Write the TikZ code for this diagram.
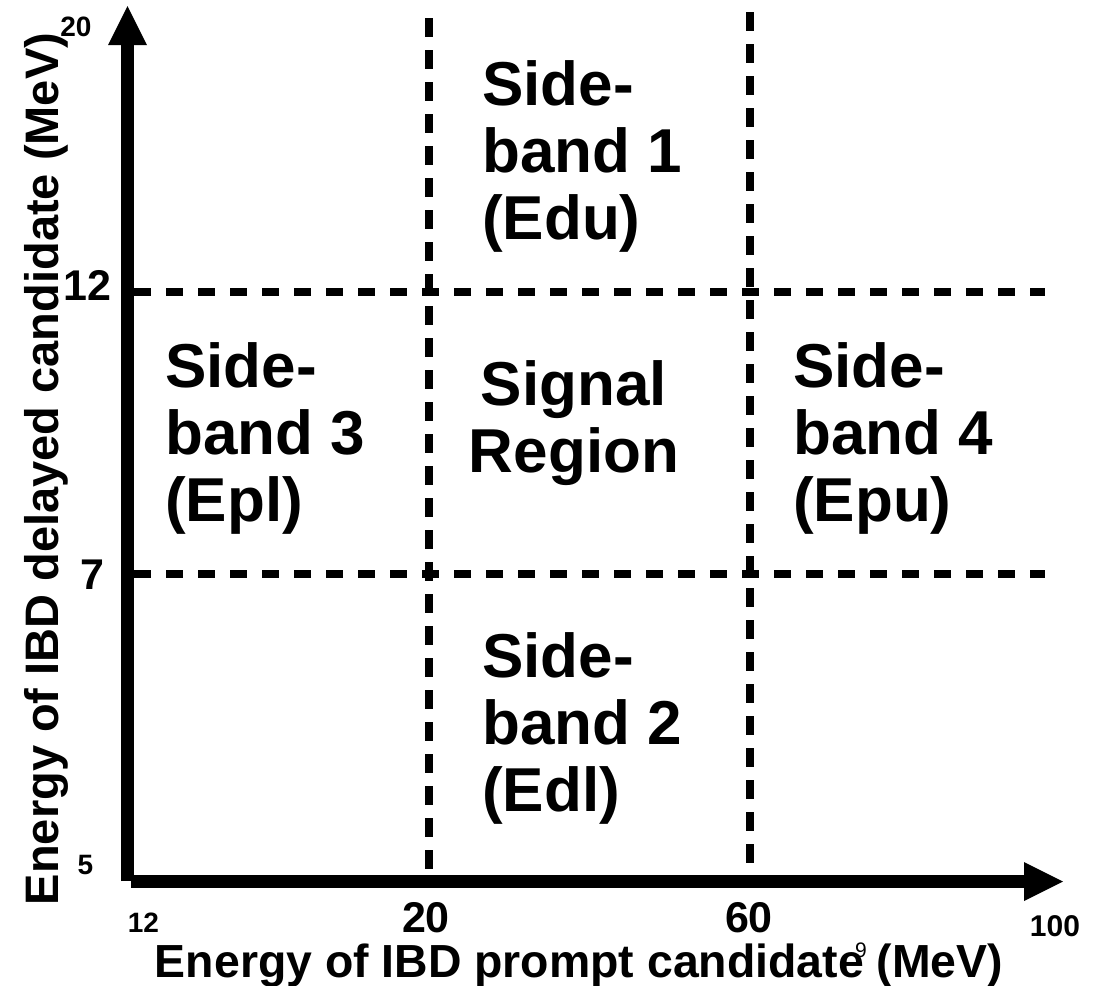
\documentclass[tikz,border=0pt]{standalone}
\usepackage{fontspec}
\setmainfont{Liberation Sans}
\usetikzlibrary{arrows.meta}
\begin{document}
\begin{tikzpicture}[x=1pt,y=-1pt,
  axis/.style={line width=13pt, -{Triangle[length=39pt,width=39pt,line width=0pt]}},
  vdash/.style={line width=8pt, dash pattern=on 19pt off 13pt},
  hdash/.style={line width=8pt, dash pattern=on 16.5pt off 15.5pt},
  big/.style={font=\fontsize{62}{67}\selectfont\bfseries, inner sep=0pt, align=left, anchor=north west},
  tick/.style={font=\fontsize{43}{43}\selectfont\bfseries, inner sep=0pt},
  small/.style={font=\fontsize{28}{28}\selectfont\bfseries, inner sep=0pt},
  lab/.style={font=\fontsize{47}{47}\selectfont\bfseries, inner sep=0pt, anchor=base}
]
\useasboundingbox (0,0) rectangle (1104,986);

% axes
\coordinate (ybot) at (127.5,881);
\coordinate (ytip) at (127.5,6);
\coordinate (xstart) at (131,881.5);
\coordinate (xtip) at (1063,881.5);
\draw[axis] (ybot) -- (ytip);
\draw[axis] (xstart) -- (xtip);

% dashed region boundaries
\coordinate (v1t) at (428.5,18);
\coordinate (v1b) at (428.5,876);
\coordinate (v2t) at (750,12);
\coordinate (v2b) at (750,876);
\coordinate (h1l) at (134,291.5);
\coordinate (h1r) at (1045,291.5);
\coordinate (h2l) at (134,573.5);
\coordinate (h2r) at (1045,573.5);
\draw[vdash] (v1t) -- (v1b);
\draw[vdash] (v2t) -- (v2b);
\draw[hdash] (h1l) -- (h1r);
\draw[hdash] (h2l) -- (h2r);

% region labels
\node[big] (sb1) at (482,60) {Side-\\band 1\\(Edu)};
\node[big] (sb3) at (165,342) {Side-\\band 3\\(Epl)};
\node[big, align=center, anchor=north] (sig) at (574,360) {Signal\\Region};
\node[big] (sb4) at (793,342) {Side-\\band 4\\(Epu)};
\node[big] (sb2) at (482,632) {Side-\\band 2\\(Edl)};

% tick labels
\node[tick] (t20) at (426,917.5) {20};
\node[tick] (t60) at (749,917.5) {60};
\node[tick, anchor=east] (t12) at (112,285) {12};
\node[tick, anchor=east] (t7) at (105,575) {7};
\node[small] (s20) at (76,27) {20};
\node[small] (s5) at (85.5,865) {5};
\node[small] (s12) at (143.5,922.5) {12};
\node[small, font=\fontsize{30}{30}\selectfont\bfseries] (s100) at (1055,926) {100};
\node[font=\fontsize{21}{21}\selectfont, inner sep=0pt] (pg) at (861,950) {9};

% axis titles
\node[lab, font=\fontsize{46.4}{46.4}\selectfont\bfseries] (xl) at (579,977) {Energy of IBD prompt candidate (MeV)};
\node[lab, rotate=90] (yl) at (58,469) {Energy of IBD delayed candidate (MeV)};
\end{tikzpicture}
\end{document}
